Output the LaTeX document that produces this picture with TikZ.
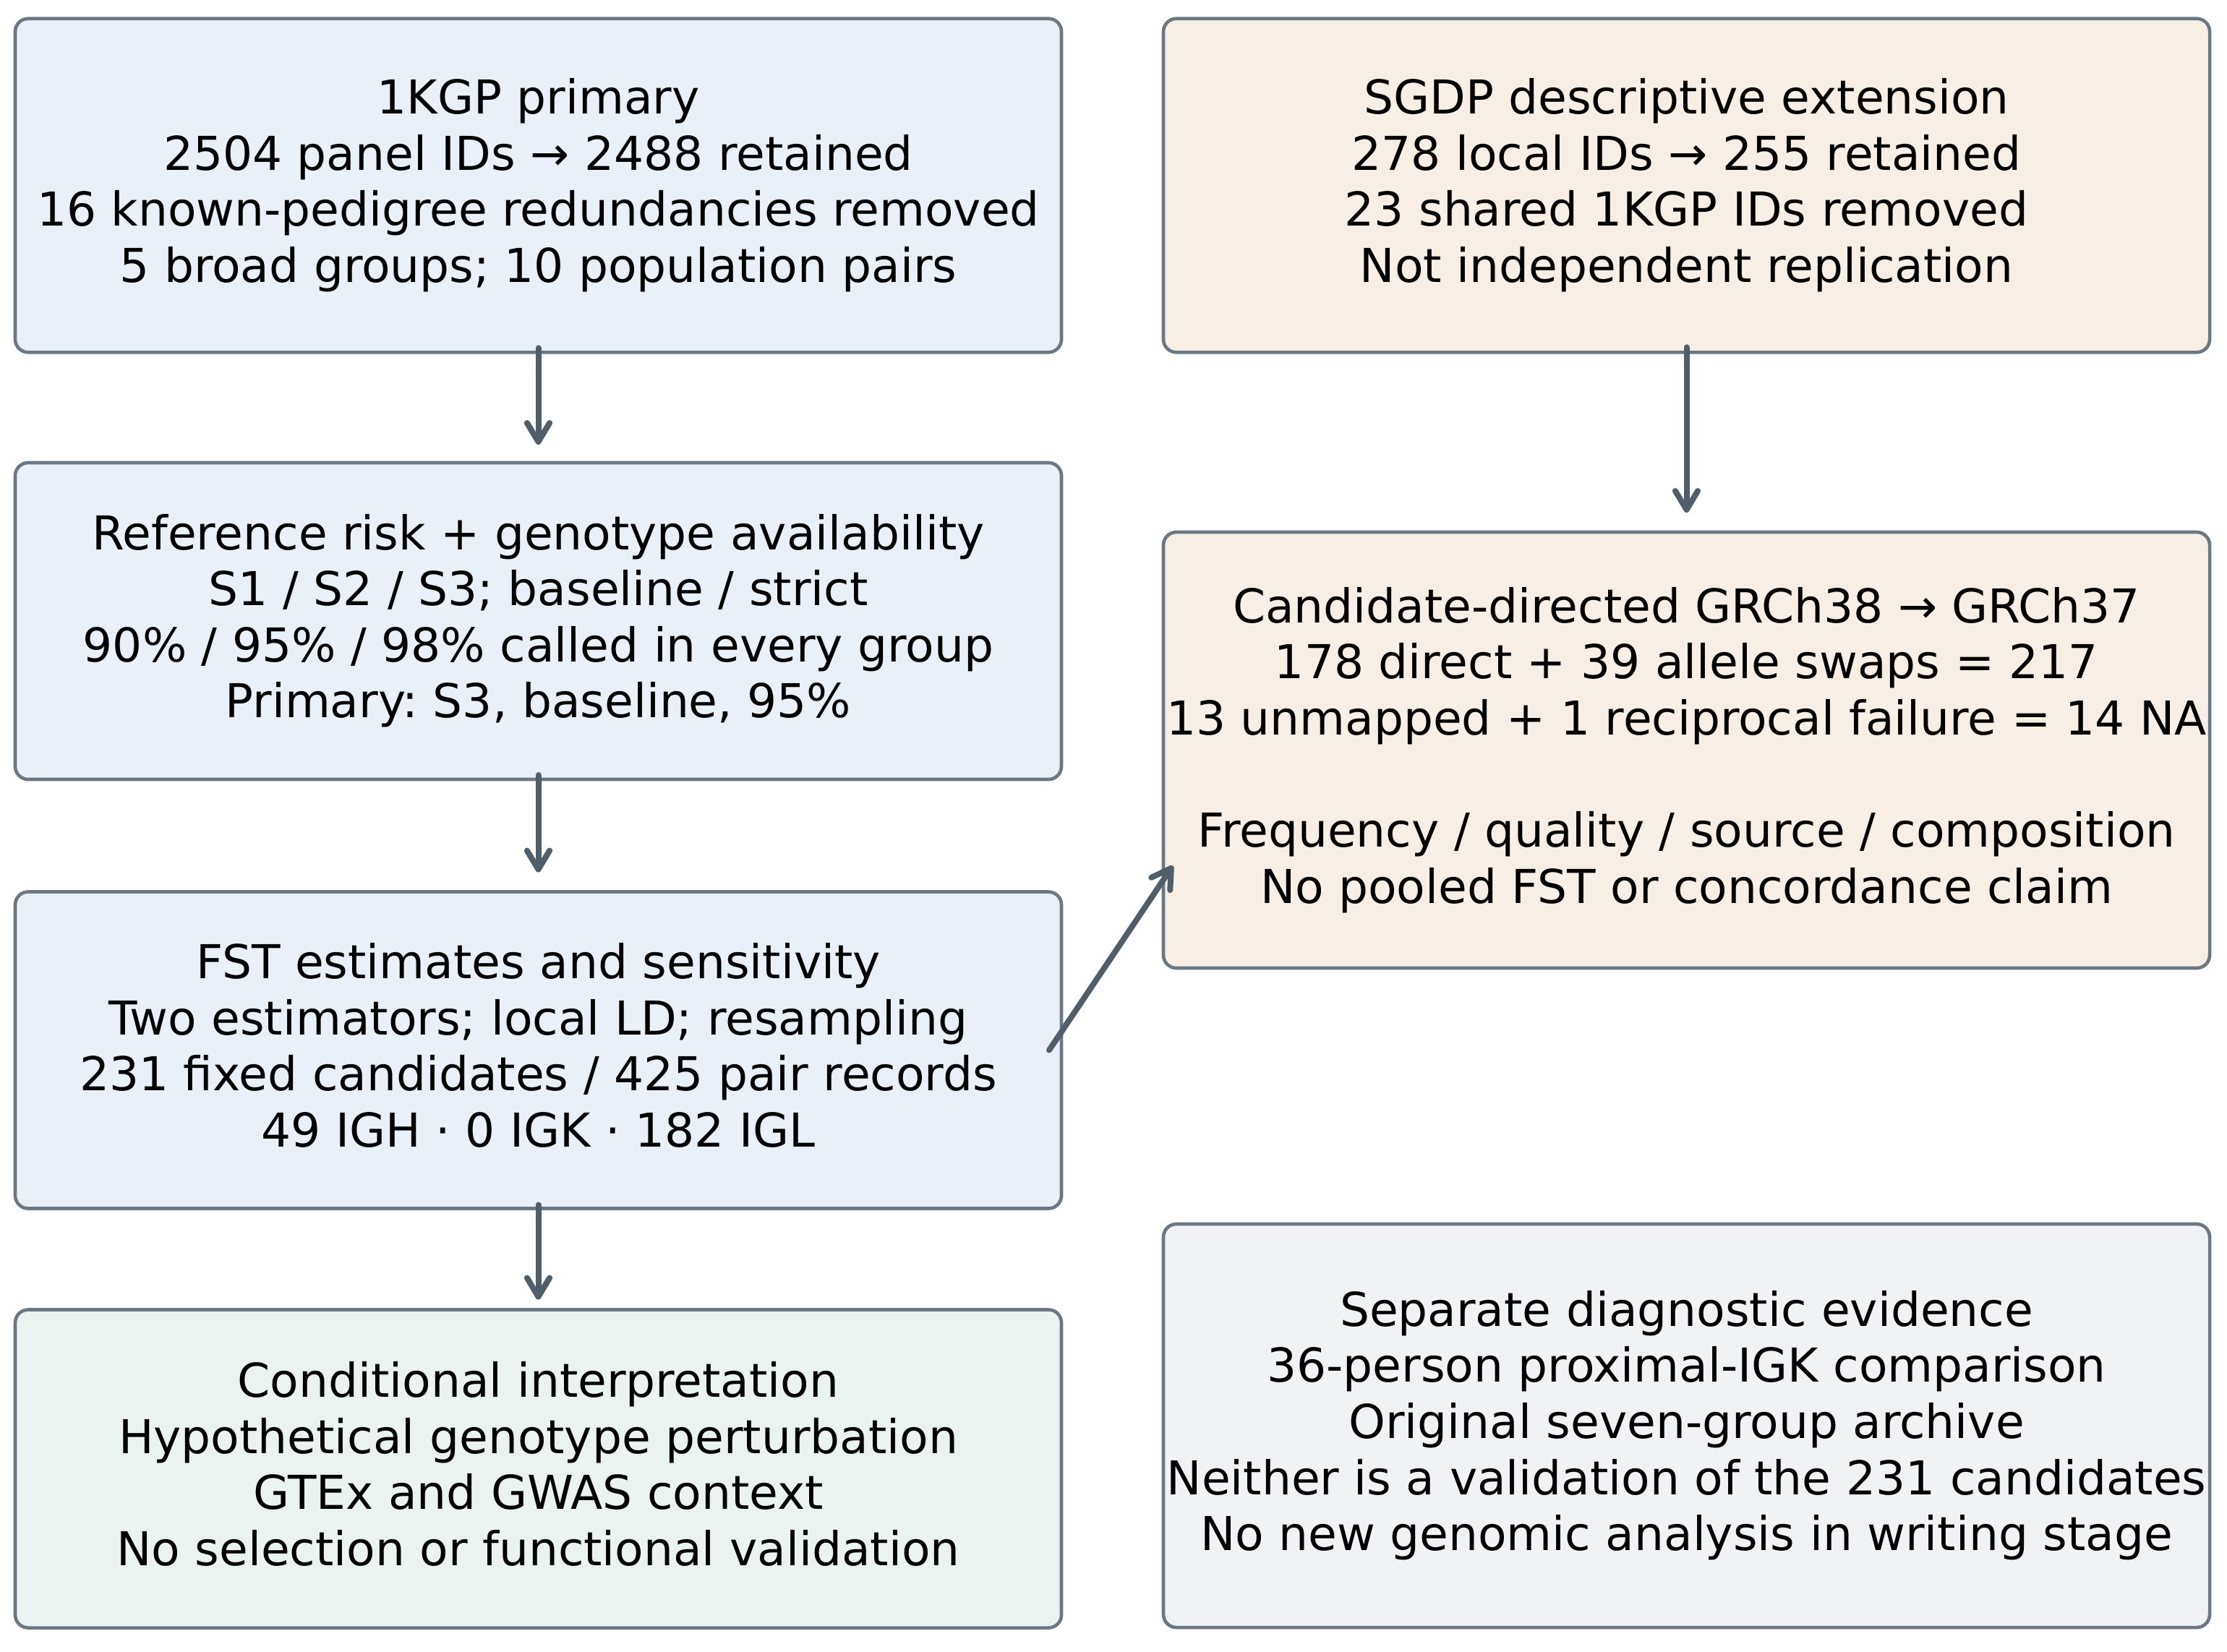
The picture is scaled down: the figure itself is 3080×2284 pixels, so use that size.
\documentclass[tikz,border=0pt]{standalone}
\usepackage{fontspec}
\setmainfont{DejaVu Sans}
\usetikzlibrary{arrows.meta,calc}
\definecolor{bluefill}{HTML}{E9F0F7}
\definecolor{beigefill}{HTML}{F7EFE5}
\definecolor{greenfill}{HTML}{EAF3EF}
\definecolor{grayfill}{HTML}{F1F2F4}
\definecolor{edgecol}{HTML}{6B7782}
\definecolor{arrowcol}{HTML}{505E6A}
\frenchspacing
\begin{document}
\begin{tikzpicture}[x=0.25pt,y=-0.25pt,
  box/.style={draw=edgecol,line width=1.15pt,rounded corners=4.5pt,minimum width=361.75pt,inner sep=0pt,outer sep=0pt},
  txt/.style={align=center,font=\fontsize{16.15}{19.4}\selectfont\frenchspacing,inner sep=0pt,text=black,yshift=-0.5pt},
  flow/.style={draw=arrowcol,line width=2pt,line cap=round,
    -{Straight Barb[length=6.5pt,width=7.8pt,line cap=round,line join=round]}}]
\useasboundingbox[fill=white] (0,0) rectangle (3080,2284);

% left column
\node[box,fill=bluefill,minimum height=115.4pt] (l1) at (744.5,256.5) {};
\node[txt] (l1t) at (l1) {\strut 1KGP primary\\2504 panel IDs → 2488 retained\\16 known-pedigree redundancies removed\\5 broad groups; 10 population pairs\strut};

\node[box,fill=bluefill,minimum height=109.5pt] (l2) at (744.5,859) {};
\node[txt] (l2t) at (l2) {\strut Reference risk + genotype availability\\S1 / S2 / S3; baseline / strict\\90\% / 95\% / 98\% called in every group\\Primary: S3, baseline, 95\%\strut};

\node[box,fill=bluefill,minimum height=109.5pt] (l3) at (744.5,1452.5) {};
\node[txt] (l3t) at (l3) {\strut FST estimates and sensitivity\\Two estimators; local LD; resampling\\231 fixed candidates / 425 pair records\\49 IGH · 0 IGK · 182 IGL\strut};

\node[box,fill=greenfill,minimum height=110pt] (l4) at (744.5,2031.5) {};
\node[txt] (l4t) at (l4) {\strut Conditional interpretation\\Hypothetical genotype perturbation\\GTEx and GWAS context\\No selection or functional validation\strut};

% right column
\node[box,fill=beigefill,minimum height=115.4pt] (r1) at (2332.5,256.5) {};
\node[txt] (r1t) at (r1) {\strut SGDP descriptive extension\\278 local IDs → 255 retained\\23 shared 1KGP IDs removed\\Not independent replication\strut};

\node[box,fill=beigefill,minimum height=150.75pt] (r2) at (2332.5,1037.5) {};
\node[txt] (r2t) at (r2) {\strut Candidate-directed GRCh38 → GRCh37\\178 direct + 39 allele swaps = 217\\13 unmapped + 1 reciprocal failure = 14 NA\\[19.4pt]Frequency / quality / source / composition\\No pooled FST or concordance claim\strut};

\node[box,fill=grayfill,minimum height=139.5pt] (r3) at (2332.5,1972) {};
\node[txt] (r3t) at (r3) {\strut Separate diagnostic evidence\\36-person proximal-IGK comparison\\Original seven-group archive\\Neither is a validation of the 231 candidates\\No new genomic analysis in writing stage\strut};

% connectors
\draw[flow] ($(l1.south)+(0,-6)$) -- ($(l2.north)+(0,-25)$);
\draw[flow] ($(l2.south)+(0,-6)$) -- ($(l3.north)+(0,-27)$);
\draw[flow] ($(l3.south)+(0,-5)$) -- ($(l4.north)+(0,-14)$);
\draw[flow] ($(r1.south)+(0,-7)$) -- ($(r2.north)+(0,-27)$);
\draw[flow] ($(l3.east)+(-17,0)$) -- ($(r2.west)+(13,160)$);
\end{tikzpicture}
\end{document}
